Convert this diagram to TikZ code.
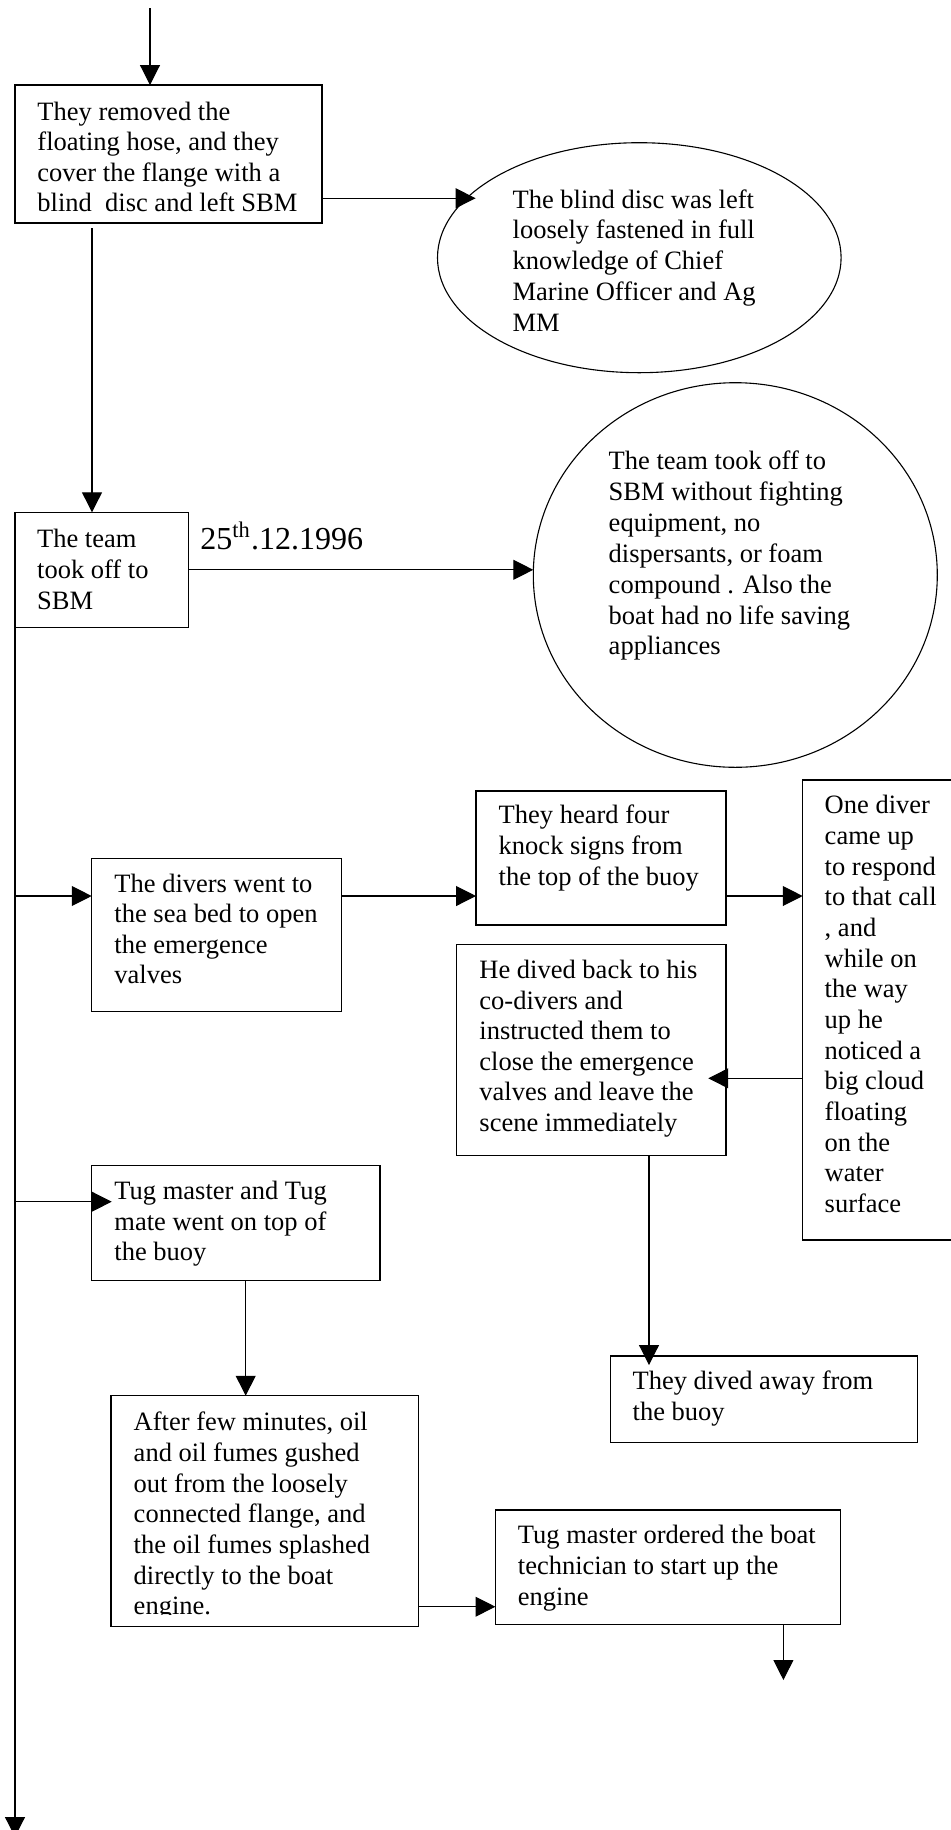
\documentclass[tikz,border=0pt]{standalone}
\usepackage{fontspec}
\setmainfont{Liberation Serif}
\usetikzlibrary{arrows.meta,shapes.geometric,fit}
\newlength\pxu
\setlength\pxu{0.4528pt}
\tikzset{
  box/.style={draw, line width=0.5pt, inner sep=0pt, outer sep=0pt},
  oval/.style={ellipse, draw, line width=0.5pt, inner sep=0pt, outer sep=0pt},
  txt/.style={anchor=north west, yshift=9.66pt, inner sep=0pt, align=left,
              font=\fontsize{12pt}{13.8pt}\selectfont},
  bigtxt/.style={anchor=base west, inner sep=0pt,
              font=\fontsize{14.5pt}{16.5pt}\selectfont},
  arr/.style={line width=0.5pt, -{Triangle[length=9pt,width=9pt]}},
}
\begin{document}
\begin{tikzpicture}[x=\pxu, y=-\pxu]
\path[use as bounding box, fill=white] (0,0) rectangle (950,1830);

% boxes and ovals
\node[box, fit={(15,85) (322,223)}] (b1) {};
\node[oval, minimum width=403.6\pxu, minimum height=230\pxu] (e1) at (639.3,257.7) {};
\node[box, fit={(15,512.3) (188.3,627.3)}] (b2) {};
\node[oval, minimum width=404\pxu, minimum height=384.6\pxu] (e2) at (735.3,575) {};
\node[box, fit={(91.7,858.3) (341.7,1011.7)}] (b3) {};
\node[box, fit={(476,791) (726,925)}] (b4) {};
\node[box, fit={(802.7,780) (965,1240)}] (b5) {};
\node[box, fit={(456.7,944.3) (726,1155.7)}] (b6) {};
\node[box, fit={(610.4,1356) (917.4,1442.7)}] (b7) {};
\node[box, fit={(91.7,1165.7) (380,1280.7)}] (b8) {};
\node[box, fit={(111,1395.7) (418.3,1626.7)}] (b9) {};
\node[box, fit={(495.4,1510) (840.9,1624.3)}] (b10) {};

% texts
\node[txt] (t1) at (37,120) {\strut They removed the\\floating hose, and they\\cover the flange with a\\blind~ disc and left SBM};
\node[txt, font=\fontsize{12pt}{14pt}\selectfont] (te1) at (512.2,207.3) {\strut The blind disc was left\\loosely fastened in full\\knowledge of Chief\\Marine Officer and Ag\\MM};
\node[txt, font=\fontsize{12pt}{14pt}\selectfont] (t2) at (36.7,546.7) {\strut The team\\took off to\\SBM};
\node[bigtxt] (date) at (200,549.3) {25\textsuperscript{th}.12.1996};
\node[txt, font=\fontsize{12pt}{13.95pt}\selectfont] (te2) at (608.3,469.3) {\strut The team took off to\\SBM without fighting\\equipment, no\\dispersants, or foam\\compound . Also the\\boat had no life saving\\appliances};
\node[txt] (t3) at (114,892) {\strut The divers went to\\the sea bed to open\\the emergence\\valves};
\node[txt, font=\fontsize{12pt}{13.9pt}\selectfont] (t4) at (498.3,823.3) {\strut They heard four\\knock signs from\\the top of the buoy};
\node[txt, font=\fontsize{12pt}{13.88pt}\selectfont] (t5) at (824.3,813.3) {\strut One diver\\came up\\to respond\\to that call\\, and\\while on\\the way\\up he\\noticed a\\big cloud\\floating\\on the\\water\\surface};
\node[txt] (t6) at (479,978.3) {\strut He dived back to his\\co-divers and\\instructed them to\\close the emergence\\valves and leave the\\scene immediately};
\node[txt, font=\fontsize{12pt}{13.9pt}\selectfont] (t7) at (632.2,1389.3) {\strut They dived away from\\the buoy};
\node[txt] (t8) at (114,1199.5) {\strut Tug master and Tug\\mate went on top of\\the buoy};
\begin{scope}
  \clip (111,1395.7) rectangle (418.3,1614.5);
  \node[txt, font=\fontsize{12pt}{13.9pt}\selectfont] (t9) at (133.3,1430) {\strut After few minutes, oil\\and oil fumes gushed\\out from the loosely\\connected flange, and\\the oil fumes splashed\\directly to the boat\\engine.};
\end{scope}
\node[txt, font=\fontsize{12pt}{13.9pt}\selectfont] (t10) at (517.5,1543.3) {\strut Tug master ordered the boat\\technician to start up the\\engine};

% connectors
\coordinate (top) at (150,8);
\draw[arr] (top) -- (top |- b1.north);

\coordinate (e1in) at ([xshift=9\pxu]e1.161.4);
\draw[arr] (b1.east |- e1in) -- (e1in);

\coordinate (d1) at ([shift={(77,5)}]b1.south west);
\draw[arr] (d1) -- (d1 |- b2.north);

\draw[arr] (b2.east) -- (b2.east -| e2.west);

\coordinate (sEnd) at (15,1837);
\draw[arr] (b2.south west) -- (sEnd);

\coordinate (in3) at ([yshift=-37.7\pxu]b3.north west);
\draw[arr] (b2.south west |- in3) -- (in3);
\draw[arr] (b3.east |- in3) -- (b4.west |- in3);
\draw[arr] (b4.east |- in3) -- (b5.west |- in3);

\coordinate (c56) at ([yshift=-298.3\pxu]b5.north west);
\path (b6.east |- c56) coordinate (e6);
\coordinate (in6) at ([xshift=-17.7\pxu]e6);
\draw[arr] (c56) -- (in6);

\coordinate (d6) at ([xshift=192.3\pxu]b6.south west);
\path (d6 |- b7.north) coordinate (n7);
\draw[arr] (d6) -- ([yshift=-9\pxu]n7);

\coordinate (in8) at ([shift={(20,36)}]b8.north west);
\draw[arr] (b2.south west |- in8) -- (in8);

\coordinate (d8) at ([xshift=154\pxu]b8.south west);
\draw[arr] (d8) -- (d8 |- b9.north);

\coordinate (in10) at ([yshift=-96.7\pxu]b10.north west);
\draw[arr] (b9.east |- in10) -- (in10);

\coordinate (d10) at ([xshift=288\pxu]b10.south west);
\coordinate (e10) at ([yshift=-55.7\pxu]d10);
\draw[arr] (d10) -- (e10);
\end{tikzpicture}
\end{document}
